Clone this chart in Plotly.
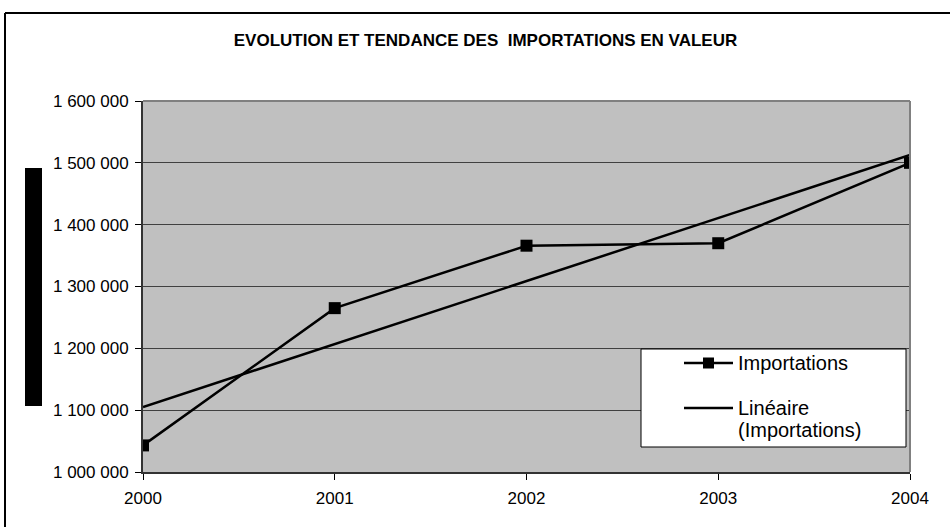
import numpy as np
import plotly.graph_objects as go

years = [2000, 2001, 2002, 2003, 2004]
importations = [1043000, 1265000, 1366000, 1370000, 1500000]
y_ticks = [1000000, 1100000, 1200000, 1300000, 1400000, 1500000, 1600000]
y_tick_labels = ["1 000 000", "1 100 000", "1 200 000", "1 300 000", "1 400 000", "1 500 000", "1 600 000"]
series_name = "Importations"
trend_name_lines = ["Linéaire", "(Importations)"]

slope, intercept = np.polyfit(years, importations, 1)
trend = [slope * x + intercept for x in years]

W, H = 950, 527
L, R, T, B = 143, 40, 101, 55
PW, PH = W - L - R, H - T - B


def px(x):
    return (x - L) / PW


def py(y):
    return (H - B - y) / PH


FONT = "Liberation Sans, Arial, sans-serif"

fig = go.Figure()
fig.add_trace(go.Scatter(
    x=years, y=importations, mode="lines+markers", name=series_name,
    line=dict(color="black", width=2.5),
    marker=dict(symbol="square", size=12, color="black"),
    showlegend=False,
))
fig.add_trace(go.Scatter(
    x=[years[0], years[-1]], y=[trend[0], trend[-1]], mode="lines",
    name=" ".join(trend_name_lines),
    line=dict(color="black", width=2.5),
    showlegend=False,
))

shapes = [
    # outer chart border
    dict(type="line", xref="paper", yref="paper", x0=px(5), x1=px(W + 5), y0=py(13), y1=py(13),
         line=dict(color="black", width=2)),
    dict(type="line", xref="paper", yref="paper", x0=px(5), x1=px(5), y0=py(13), y1=py(H + 5),
         line=dict(color="black", width=2)),
    # plot area top/right border
    dict(type="line", xref="paper", yref="paper", x0=0, x1=1, y0=1, y1=1,
         line=dict(color="#808080", width=2)),
    dict(type="line", xref="paper", yref="paper", x0=1, x1=1, y0=0, y1=1,
         line=dict(color="#808080", width=2)),
    # black box (axis title placeholder)
    dict(type="rect", xref="paper", yref="paper", x0=px(25), x1=px(42), y0=py(406), y1=py(168),
         fillcolor="black", line=dict(width=0)),
    # legend box
    dict(type="rect", xref="paper", yref="paper", x0=px(641), x1=px(906), y0=py(447), y1=py(349),
         fillcolor="white", line=dict(color="black", width=1)),
    # legend symbols
    dict(type="line", xref="paper", yref="paper", x0=px(684), x1=px(733), y0=py(363), y1=py(363),
         line=dict(color="black", width=2.5)),
    dict(type="rect", xref="paper", yref="paper", x0=px(703), x1=px(714), y0=py(368.5), y1=py(357.5),
         fillcolor="black", line=dict(width=0)),
    dict(type="line", xref="paper", yref="paper", x0=px(684), x1=px(733), y0=py(408), y1=py(408),
         line=dict(color="black", width=2.5)),
]

annotations = [
    dict(text=series_name, xref="paper", yref="paper", x=px(736), y=py(363),
         xanchor="left", yanchor="middle", showarrow=False, font=dict(size=20, family=FONT)),
    dict(text=trend_name_lines[0], xref="paper", yref="paper", x=px(736), y=py(408),
         xanchor="left", yanchor="middle", showarrow=False, font=dict(size=20, family=FONT)),
    dict(text=trend_name_lines[1], xref="paper", yref="paper", x=px(736), y=py(430),
         xanchor="left", yanchor="middle", showarrow=False, font=dict(size=20, family=FONT)),
]

fig.update_layout(
    width=W, height=H,
    margin=dict(l=L, r=R, t=T, b=B, autoexpand=False),
    paper_bgcolor="white",
    plot_bgcolor="#C0C0C0",
    font=dict(family=FONT, color="black", size=17),
    title=dict(text="<b>EVOLUTION ET TENDANCE DES  IMPORTATIONS EN VALEUR</b>",
               x=485.5 / W, xanchor="center", y=1 - 40 / H, yanchor="middle",
               font=dict(size=17, family=FONT)),
    showlegend=False,
    xaxis=dict(
        range=[2000, 2004], tickvals=years, ticktext=[str(y) for y in years],
        showgrid=False, zeroline=False,
        ticks="outside", ticklen=6, tickcolor="black", ticklabelstandoff=4,
        showline=True, linecolor="#333333", linewidth=2, mirror=False,
        tickfont=dict(size=17, family=FONT),
    ),
    yaxis=dict(
        range=[1000000, 1600000], tickvals=y_ticks, ticktext=y_tick_labels,
        showgrid=True, gridcolor="#404040", gridwidth=1, zeroline=False,
        ticks="outside", ticklen=6, tickcolor="black", ticklabelstandoff=3,
        showline=True, linecolor="#333333", linewidth=2,
        tickfont=dict(size=17, family=FONT),
    ),
    shapes=shapes,
    annotations=annotations,
)

fig.write_html("out.html", config={"displayModeBar": False},
               post_script="document.body.style.margin='0';")
